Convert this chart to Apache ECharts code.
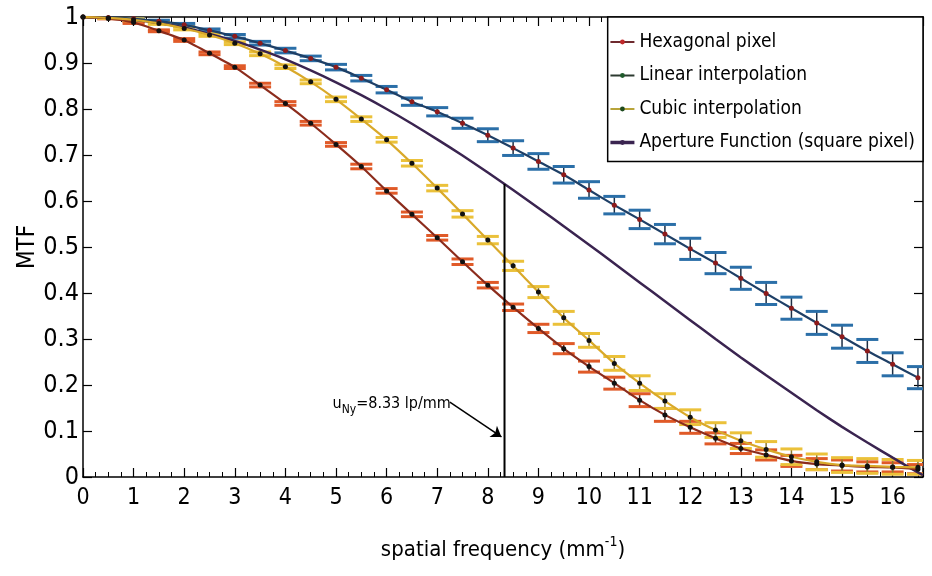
<!DOCTYPE html>
<html><head><meta charset="utf-8">
<script src="https://cdn.jsdelivr.net/npm/echarts/dist/echarts.min.js"></script>
<style>html,body{margin:0;padding:0;background:#fff}#c{width:932px;height:576px}</style>
</head><body><div id="c"></div><script>
// ---- data ----
const freq = [0,0.5,1,1.5,2,2.5,3,3.5,4,4.5,5,5.5,6,6.5,7,7.5,8,8.5,9,9.5,10,10.5,11,11.5,12,12.5,13,13.5,14,14.5,15,15.5,16,16.5];
const hexMTF = [1.000,0.999,0.996,0.991,0.983,0.971,0.958,0.943,0.927,0.910,0.891,0.867,0.842,0.816,0.794,0.769,0.743,0.715,0.686,0.657,0.624,0.591,0.560,0.528,0.496,0.465,0.432,0.399,0.367,0.335,0.305,0.274,0.245,0.216];
const hexErr = [0,0.001,0.002,0.002,0.003,0.003,0.004,0.004,0.005,0.005,0.006,0.006,0.007,0.008,0.009,0.011,0.014,0.016,0.017,0.018,0.018,0.019,0.020,0.021,0.023,0.023,0.024,0.024,0.024,0.025,0.025,0.025,0.025,0.024];
const linMTF = [1.000,0.997,0.988,0.970,0.950,0.921,0.891,0.852,0.812,0.769,0.723,0.675,0.622,0.571,0.520,0.468,0.417,0.369,0.323,0.279,0.240,0.204,0.167,0.135,0.108,0.084,0.062,0.048,0.035,0.028,0.025,0.022,0.021,0.017];
const linErr = [0,0.001,0.002,0.002,0.003,0.003,0.003,0.004,0.004,0.004,0.004,0.005,0.005,0.005,0.005,0.006,0.006,0.007,0.009,0.011,0.012,0.013,0.014,0.014,0.013,0.012,0.011,0.011,0.012,0.012,0.012,0.011,0.010,0.010];
const cubMTF = [1.000,0.998,0.994,0.986,0.975,0.961,0.943,0.920,0.892,0.859,0.821,0.778,0.733,0.682,0.628,0.572,0.515,0.459,0.402,0.346,0.297,0.247,0.204,0.165,0.130,0.102,0.079,0.060,0.044,0.033,0.026,0.024,0.022,0.021];
const cubErr = [0,0.001,0.002,0.002,0.003,0.003,0.003,0.004,0.004,0.004,0.005,0.005,0.005,0.006,0.006,0.007,0.008,0.010,0.012,0.014,0.015,0.015,0.016,0.016,0.016,0.016,0.017,0.017,0.017,0.017,0.016,0.016,0.016,0.015];
const apFreq = [0,0.5,1,1.5,2,2.5,3,3.5,4,4.5,5,5.5,6,6.5,7,7.5,8,8.5,9,9.5,10,10.5,11,11.5,12,12.5,13,13.5,14,14.5,15,15.5,16,16.5,16.6];
const apMTF = [1.000,0.998,0.994,0.987,0.977,0.963,0.948,0.929,0.908,0.884,0.858,0.830,0.800,0.768,0.734,0.699,0.662,0.624,0.585,0.545,0.505,0.464,0.423,0.382,0.341,0.300,0.260,0.221,0.183,0.145,0.109,0.075,0.042,0.010,0.004];
const nyqFreq = 8.33;
const nyqMTF = 0.637;
const seriesNames = ['Hexagonal pixel','Linear interpolation','Cubic interpolation','Aperture Function (square pixel)'];
const xTicks = [0,1,2,3,4,5,6,7,8,9,10,11,12,13,14,15,16];
const yTicks = [0,0.1,0.2,0.3,0.4,0.5,0.6,0.7,0.8,0.9,1];

// ---- annotation anchors (data space) ----
const arrowFrom = [7.25, 0.163];
const arrowTo = [8.27, 0.087];

const FONT = '"DejaVu Sans Condensed","Liberation Sans Narrow",sans-serif';

function pairs(xs, ys){ return xs.map((f,i)=>[f, ys[i]]); }
function errData(ys, es){ return freq.map((f,i)=>[f, ys[i]-es[i], ys[i]+es[i]]); }
function errSeries(name, ys, es, capColor, stemColor){
  return {
    type:'custom', name:name, data:errData(ys, es), encode:{x:0, y:[1,2]}, z:3, silent:true, clip:true,
    renderItem:(params, api)=>{
      const x = api.value(0);
      const lo = api.coord([x, api.value(1)]);
      const hi = api.coord([x, api.value(2)]);
      const w = 11;
      return {type:'group', children:[
        {type:'line', shape:{x1:lo[0],y1:lo[1],x2:hi[0],y2:hi[1]}, style:{stroke:stemColor,lineWidth:1.5}},
        {type:'line', shape:{x1:lo[0]-w,y1:lo[1],x2:lo[0]+w,y2:lo[1]}, style:{stroke:capColor,lineWidth:3}},
        {type:'line', shape:{x1:hi[0]-w,y1:hi[1],x2:hi[0]+w,y2:hi[1]}, style:{stroke:capColor,lineWidth:3}}
      ]};
    }
  };
}

const chart = echarts.init(document.getElementById('c'), null, {renderer:'canvas'});
const axisLineStyle = {color:'#000', width:1.5};
const xAxisBase = {
  type:'value', min:0, max:16.6, interval:1,
  axisLine:{show:true, onZero:false, lineStyle:axisLineStyle},
  axisTick:{show:true, inside:true, length:9, lineStyle:{color:'#000', width:1.2}},
  minorTick:{show:true, splitNumber:4, length:5, lineStyle:{color:'#000', width:1}},
  splitLine:{show:false}, minorSplitLine:{show:false}
};
const yAxisBase = {
  type:'value', min:0, max:1, interval:0.1,
  axisLine:{show:true, onZero:false, lineStyle:axisLineStyle},
  axisTick:{show:true, inside:true, length:9, lineStyle:{color:'#000', width:1.2}},
  splitLine:{show:false}
};

chart.setOption({
  animation:false,
  backgroundColor:'#fff',
  grid:{left:83, right:9, top:17, bottom:99, containLabel:false},
  legend:{
    orient:'vertical', right:9, top:17,
    backgroundColor:'#fff', borderColor:'#000', borderWidth:1.5, borderRadius:0,
    padding:[14,8,8,1], itemGap:11.5, itemWidth:24, itemHeight:6,
    textStyle:{color:'#000', fontFamily:FONT, fontSize:19, lineHeight:22},
    data:[
      {name:seriesNames[0], itemStyle:{color:'#c0282a'}, lineStyle:{color:'#6e2a2e', width:2}},
      {name:seriesNames[1], itemStyle:{color:'#1e5a2a'}, lineStyle:{color:'#2c3a30', width:2}},
      {name:seriesNames[2], itemStyle:{color:'#1e4a1e'}, lineStyle:{color:'#b8a43a', width:2}},
      {name:seriesNames[3], itemStyle:{color:'#3a2450'}, lineStyle:{color:'#3a2450', width:3.5}}
    ]
  },
  xAxis:[
    Object.assign({}, xAxisBase, {
      position:'bottom',
      axisLabel:{color:'#000', fontFamily:FONT, fontSize:23, margin:10, showMaxLabel:false,
        formatter:v=> xTicks.includes(v) ? String(v) : ''},
      name:'{a|spatial frequency (mm}{s|-1}{a|)}', nameLocation:'middle', nameGap:58,
      nameTextStyle:{rich:{a:{fontFamily:FONT, fontSize:22, color:'#000', lineHeight:30}, s:{fontFamily:FONT, fontSize:14, color:'#000', verticalAlign:'top', lineHeight:14}}}
    }),
    Object.assign({}, xAxisBase, {position:'top', axisLabel:{show:false}})
  ],
  yAxis:[
    Object.assign({}, yAxisBase, {
      position:'left',
      axisLabel:{color:'#000', fontFamily:FONT, fontSize:25, margin:4,
        formatter:v=>{ const t = yTicks.find(k=>Math.abs(k-v)<1e-9); return t===undefined ? '' : (t===0?'0':t===1?'1':t.toFixed(1)); }},
      name:'MTF', nameLocation:'middle', nameRotate:90, nameGap:43, nameMoveOverlap:false,
      nameTextStyle:{fontFamily:FONT, fontSize:24, color:'#000'}
    }),
    Object.assign({}, yAxisBase, {position:'right', axisLabel:{show:false}})
  ],
  series:[
    errSeries('hexErr', hexMTF, hexErr, '#2b6fa8', '#1d2f45'),
    errSeries('linErr', linMTF, linErr, '#e05a28', '#5a2418'),
    errSeries('cubErr', cubMTF, cubErr, '#ebc13a', '#8a7a30'),
    {type:'line', name:seriesNames[3], data:pairs(apFreq, apMTF), symbol:'none', smooth:0.2,
      itemStyle:{color:'#3a2450'}, lineStyle:{color:'#3a2450', width:2.5}, z:4},
    {type:'line', name:seriesNames[0], data:pairs(freq, hexMTF), symbol:'circle', symbolSize:5, smooth:0.2,
      itemStyle:{color:'#8e1b1b', borderWidth:0}, lineStyle:{color:'#1e3f66', width:2.2}, z:5},
    {type:'line', name:seriesNames[1], data:pairs(freq, linMTF), symbol:'circle', symbolSize:5, smooth:0.2,
      itemStyle:{color:'#111', borderWidth:0}, lineStyle:{color:'#8c2c1c', width:2.2}, z:5},
    {type:'line', name:seriesNames[2], data:pairs(freq, cubMTF), symbol:'circle', symbolSize:5, smooth:0.2,
      itemStyle:{color:'#111', borderWidth:0}, lineStyle:{color:'#d9a92a', width:2.2}, z:5},
    {type:'line', name:'nyquist', data:[[nyqFreq,0],[nyqFreq,nyqMTF]], symbol:'none',
      lineStyle:{color:'#000', width:2}, z:6,
      markLine:{silent:true, symbol:['none','arrow'], symbolSize:10, animation:false,
        lineStyle:{color:'#000', width:1.5, type:'solid'}, label:{show:false},
        data:[[{coord:arrowFrom},{coord:arrowTo}]]}}
  ]
});

const p = chart.convertToPixel({gridIndex:0}, arrowFrom);
chart.setOption({graphic:[{
  type:'text', x:p[0]+1, y:p[1]+2, z:10,
  style:{text:'{u|u}{s|Ny}{u|=8.33 lp/mm}', align:'right', verticalAlign:'middle',
    rich:{u:{fontFamily:FONT, fontSize:16, color:'#000', lineHeight:24}, s:{fontFamily:FONT, fontSize:12, color:'#000', verticalAlign:'bottom', lineHeight:12}}}
}]});
</script></body></html>
